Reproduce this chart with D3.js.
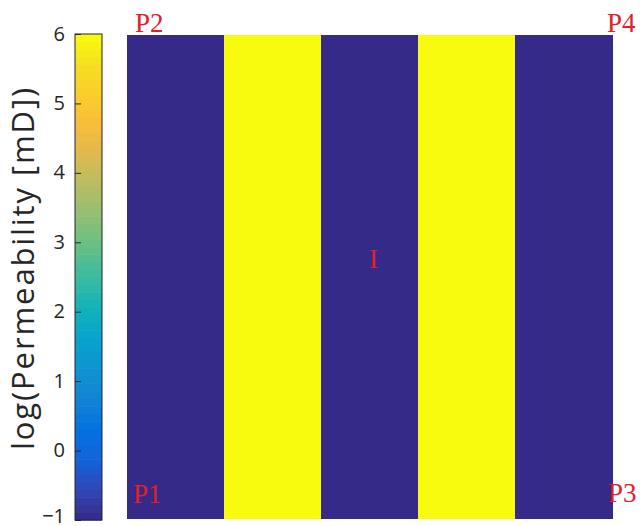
<!DOCTYPE html>
<html>
<head>
<meta charset="utf-8">
<script src="https://cdn.jsdelivr.net/npm/d3@7"></script>
<style>
  html, body { margin: 0; padding: 0; background: #fff; }
  svg { display: block; }
</style>
</head>
<body>
<svg id="chart" width="640" height="526"></svg>
<script>
// log10 permeability of the five vertical layers, left to right
const layerIndex = [0, 1, 2, 3, 4];
const layerLogPerm = [-1, 6, -1, 6, -1];

// colour axis
const colorDomain = [-1, 6];
const colorTicks = [-1, 0, 1, 2, 3, 4, 5, 6];
const colorLabel = "log(Permeability [mD])";

// well markers, positioned in unit-square coordinates (x right, y up)
const wellNames = ["P1", "P2", "P3", "P4", "I"];
const wellX = [0, 0, 1, 1, 0.5];
const wellY = [0, 1, 0, 1, 0.5];

// parula colormap stops
const parula = [
  "#352a87", "#3145b7", "#1264d9", "#0272e1", "#1283d4", "#0f94d1",
  "#06a4ca", "#12b2ba", "#3bbba0", "#65bf86", "#90bf74", "#b6bd63",
  "#dcb950", "#f9bc3a", "#fbcd2c", "#f6df1f", "#f9fb0e"
];

const svg = d3.select("#chart");

const color = d3.scaleSequential(colorDomain, d3.piecewise(d3.interpolateRgb, parula));

// ---- main field ----
const field = { left: 127, right: 612, top: 35, bottom: 519 };
const x = d3.scaleLinear().domain([0, layerIndex.length]).range([field.left, field.right]);
const y = d3.scaleLinear().domain([0, 1]).range([field.bottom, field.top]);
const ux = d3.scaleLinear().domain([0, 1]).range([field.left, field.right]);

svg.append("g")
  .selectAll("rect")
  .data(layerIndex)
  .join("rect")
  .attr("x", i => x(i))
  .attr("y", y(1))
  .attr("width", i => x(i + 1) - x(i) + 0.5)
  .attr("height", y(0) - y(1))
  .attr("fill", i => color(layerLogPerm[i]))
  .attr("shape-rendering", "crispEdges");

// ---- colour bar ----
const cbar = { left: 75, right: 102, top: 34, bottom: 520 };
const cy = d3.scaleLinear().domain(colorDomain).range([cbar.bottom, cbar.top]);
const nBands = 64;
const bandStep = (colorDomain[1] - colorDomain[0]) / nBands;
const bands = d3.range(nBands).map(k => colorDomain[0] + k * bandStep);

const cb = svg.append("g");
cb.selectAll("rect")
  .data(bands)
  .join("rect")
  .attr("x", cbar.left)
  .attr("width", cbar.right - cbar.left)
  .attr("y", v => cy(v + bandStep))
  .attr("height", v => cy(v) - cy(v + bandStep) + 0.6)
  .attr("fill", v => color(v + bandStep / 2));

cb.append("rect")
  .attr("x", cbar.left)
  .attr("y", cbar.top)
  .attr("width", cbar.right - cbar.left)
  .attr("height", cbar.bottom - cbar.top)
  .attr("fill", "none")
  .attr("stroke", "#262626")
  .attr("stroke-width", 1);

const axis = d3.axisLeft(cy)
  .tickValues(colorTicks)
  .tickFormat(d3.format("d"))
  .tickSizeInner(-6)
  .tickSizeOuter(0)
  .tickPadding(10);

const ag = svg.append("g")
  .attr("transform", `translate(${cbar.left},0)`)
  .call(axis);
ag.select(".domain").remove();
ag.selectAll(".tick line").attr("stroke", "#262626");
ag.selectAll(".tick text")
  .attr("fill", "#262626")
  .attr("dy", "0.3em")
  .style("font-family", "'Open Sans', sans-serif")
  .style("font-size", "20px");
// keep the lowest label clear of the bottom edge
ag.selectAll(".tick text")
  .filter(d => d === colorDomain[0])
  .attr("y", -4);

// colour-bar title: runs from the "0" tick level up to just above the top,
// letter spacing nudged so it fills that span
const labelStart = 450, labelEnd = 88;
const title = svg.append("text")
  .attr("text-anchor", "start")
  .attr("fill", "#262626")
  .style("font-family", "'Open Sans', sans-serif")
  .style("font-size", "31px")
  .text(colorLabel);
const natLen = title.node().getComputedTextLength();
const spacing = Math.max(0, (labelStart - labelEnd - natLen) / (colorLabel.length - 1));
title.style("letter-spacing", spacing.toFixed(2) + "px")
  .attr("transform", `translate(34,${labelStart}) rotate(-90)`);

// ---- well labels ----
const labelOffset = {
  P1: [6, -16], P2: [8, -3], P3: [-4, -17], P4: [-5, -3], I: [4, -9]
};
svg.append("g")
  .selectAll("text")
  .data(wellNames)
  .join("text")
  .attr("x", (n, i) => ux(wellX[i]) + labelOffset[n][0])
  .attr("y", (n, i) => y(wellY[i]) + labelOffset[n][1])
  .attr("text-anchor", n => n === "I" ? "middle" : "start")
  .attr("fill", "#e0202a")
  .style("font-family", "'Liberation Serif', serif")
  .style("font-size", "27px")
  .text(n => n);
</script>
</body>
</html>
